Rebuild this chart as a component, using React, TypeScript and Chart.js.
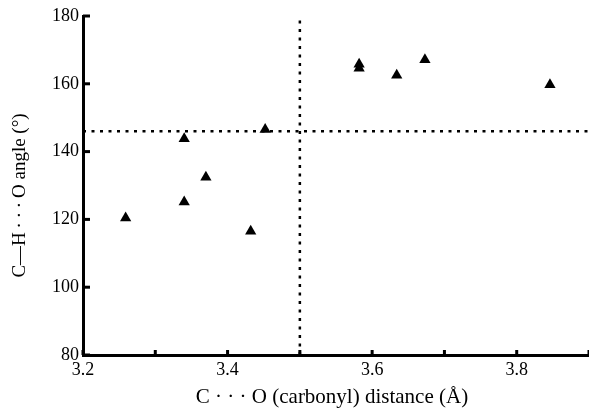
import React, { useEffect, useRef } from 'react';
import { Chart, registerables } from 'chart.js';

Chart.register(...registerables);

// C···O distance (Å)
const distances = [3.259, 3.34, 3.37, 3.34, 3.432, 3.452, 3.582, 3.582, 3.634, 3.673, 3.846];
// C—H···O angle (°)
const angles = [120.4, 143.8, 132.4, 125.1, 116.5, 146.5, 165.8, 164.6, 162.5, 167.1, 159.7];

const xRange = [3.2, 3.9];
const yRange = [80, 180];
const xStep = 0.1;
const yStep = 20;
const cutoffDistance = 3.5;
const cutoffAngle = 146;

const xTitle = 'C · · · O (carbonyl) distance (Å)';
const yTitle = 'C\u2014H\u2009·\u2009·\u2009·\u2009O angle (°)';

const FONT = '"Liberation Serif", "Times New Roman", serif';

const inwardTicks = {
  id: 'inwardTicks',
  afterDatasetsDraw(chart: any) {
    const { ctx, chartArea, scales } = chart;
    ctx.save();
    ctx.strokeStyle = '#000';
    ctx.lineWidth = 3;
    ctx.lineCap = 'butt';
    for (const t of scales.y.ticks) {
      const py = scales.y.getPixelForValue(t.value);
      ctx.beginPath();
      ctx.moveTo(chartArea.left, py);
      ctx.lineTo(chartArea.left + 7, py);
      ctx.stroke();
    }
    for (const t of scales.x.ticks) {
      const px = scales.x.getPixelForValue(t.value);
      ctx.beginPath();
      ctx.moveTo(px, chartArea.bottom);
      ctx.lineTo(px, chartArea.bottom - 5);
      ctx.stroke();
    }
    ctx.restore();
  },
};

const titles = {
  id: 'titles',
  afterDraw(chart: any) {
    const { ctx, chartArea } = chart;
    ctx.save();
    ctx.fillStyle = '#000';
    ctx.textAlign = 'center';
    ctx.textBaseline = 'middle';
    ctx.font = `21px ${FONT}`;
    ctx.fillText(xTitle, (chartArea.left + chartArea.right) / 2 - 4, 397);
    ctx.font = `19px ${FONT}`;
    ctx.translate(20, (chartArea.top + chartArea.bottom) / 2 + 10);
    ctx.rotate(-Math.PI / 2);
    ctx.fillText(yTitle, 0, 0);
    ctx.restore();
  },
};

export default function App() {
  const ref = useRef<HTMLCanvasElement | null>(null);
  useEffect(() => {
    if (!ref.current) return;
    const points = distances.map((d, i) => ({ x: d, y: angles[i] }));
    const chart = new Chart(ref.current, {
      type: 'scatter',
      data: {
        datasets: [
          {
            data: [
              { x: xRange[0], y: cutoffAngle },
              { x: xRange[1], y: cutoffAngle },
            ],
            showLine: true,
            borderColor: '#000',
            borderWidth: 2.5,
            borderDash: [3, 5.5],
            pointRadius: 0,
            order: 2,
          } as any,
          {
            data: [
              { x: cutoffDistance, y: yRange[0] },
              { x: cutoffDistance, y: yRange[1] },
            ],
            showLine: true,
            borderColor: '#000',
            borderWidth: 2.5,
            borderDash: [3, 5.5],
            pointRadius: 0,
            order: 2,
          } as any,
          {
            data: points,
            pointStyle: 'triangle',
            pointRadius: 6.5,
            backgroundColor: '#000',
            borderColor: '#000',
            borderWidth: 0,
            order: 1,
          } as any,
        ],
      },
      options: {
        animation: false,
        responsive: true,
        maintainAspectRatio: false,
        layout: { autoPadding: false, padding: { top: 16, right: 0, left: 0, bottom: 0 } },
        plugins: { legend: { display: false }, tooltip: { enabled: false } },
        scales: {
          x: {
            type: 'linear',
            min: xRange[0],
            max: xRange[1],
            afterFit: (s: any) => {
              s.height = 56;
              s.paddingRight = 0;
              s.paddingLeft = 0;
            },
            ticks: {
              stepSize: xStep,
              color: '#000',
              font: { family: FONT, size: 18 },
              padding: 4,
              maxRotation: 0,
              autoSkip: false,
              callback: (v: any) => (Math.round(Number(v) * 10) % 2 === 0 ? Number(v).toFixed(1) : ''),
            },
            grid: { display: false, drawTicks: false },
            border: { display: true, width: 3, color: '#000' },
          },
          y: {
            type: 'linear',
            min: yRange[0],
            max: yRange[1],
            afterFit: (s: any) => {
              s.width = 83;
              s.paddingTop = 0;
              s.paddingBottom = 0;
            },
            ticks: {
              stepSize: yStep,
              color: '#000',
              font: { family: FONT, size: 18 },
              padding: 4,
            },
            grid: { display: false, drawTicks: false },
            border: { display: true, width: 3, color: '#000' },
          },
        },
      },
      plugins: [inwardTicks, titles],
    });
    return () => chart.destroy();
  }, []);
  return (
    <div style={{ position: 'fixed', left: 0, top: 0, width: 589, height: 411, background: '#fff' }}>
      <canvas ref={ref} />
    </div>
  );
}
